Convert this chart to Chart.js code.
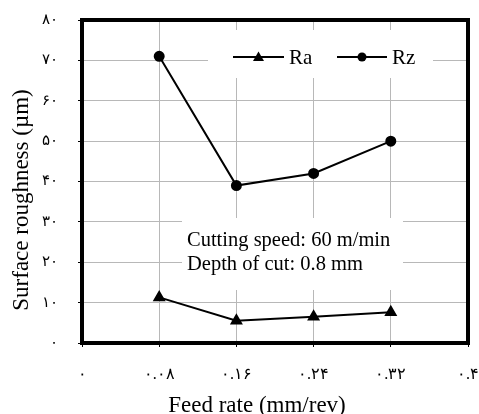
<!DOCTYPE html>
<html>
<head>
<meta charset="utf-8">
<script src="https://cdn.jsdelivr.net/npm/chart.js@4"></script>
<style>
  body { margin: 0; background: #fff; }
</style>
</head>
<body>
<canvas id="roughChart" width="479" height="414"></canvas>
<script>
// feed rate (mm/rev) and measured roughness (um)
var feedRates = [0.08, 0.16, 0.24, 0.32];
var raValues = [11.3, 5.5, 6.5, 7.6];
var rzValues = [71, 39, 42, 50];

// axis ticks, labels in Persian digits
var xTicks = [0, 0.08, 0.16, 0.24, 0.32, 0.4];
var xTickLabels = ["۰", "۰.۰۸", "۰.۱۶", "۰.۲۴", "۰.۳۲", "۰.۴"];
var yTicks = [0, 10, 20, 30, 40, 50, 60, 70, 80];
var yTickLabels = ["۰", "۱۰", "۲۰", "۳۰", "۴۰", "۵۰", "۶۰", "۷۰", "۸۰"];

var xTitle = "Feed rate (mm/rev)";
var yTitle = "Surface roughness (µm)";
var noteLines = ["Cutting speed: 60 m/min", "Depth of cut: 0.8 mm"];

var serif = "'Liberation Serif', 'Times New Roman', serif";

const toPoints = (ys) => feedRates.map((x, i) => ({ x: x, y: ys[i] }));

// white boxes behind legend and note, thick frame, legend, titles
const decorations = {
    id: 'decorations',
    beforeDatasetsDraw(chart) {
        let c = chart.ctx;
        c.save();
        c.fillStyle = '#fff';
        c.fillRect(208, 30, 225, 48);
        c.fillRect(182, 218, 221, 72);
        c.restore();
    },
    afterDraw(chart) {
        let c = chart.ctx;
        let a = chart.chartArea;
        c.save();
        c.strokeStyle = '#000';
        c.lineWidth = 4;
        c.strokeRect(a.left, a.top, a.right - a.left, a.bottom - a.top);

        // legend
        c.lineWidth = 2;
        c.fillStyle = '#000';
        c.font = '21px ' + serif;
        c.textBaseline = 'alphabetic';
        let ly = 57;
        let items = [
            { x0: 233, x1: 284, ds: chart.data.datasets[0] },
            { x0: 337, x1: 387, ds: chart.data.datasets[1] }
        ];
        items.forEach(it => {
            c.beginPath();
            c.moveTo(it.x0, ly);
            c.lineTo(it.x1, ly);
            c.stroke();
            let mx = (it.x0 + it.x1) / 2;
            if (it.ds.pointStyle === 'triangle') {
                c.beginPath();
                c.moveTo(mx, ly - 5.5);
                c.lineTo(mx + 5.5, ly + 4);
                c.lineTo(mx - 5.5, ly + 4);
                c.closePath();
                c.fill();
            } else {
                c.beginPath();
                c.arc(mx, ly, 4.5, 0, Math.PI * 2);
                c.fill();
            }
            c.fillText(it.ds.label, it.x1 + 5, ly + 7);
        });

        // cutting conditions note
        c.font = '20.5px ' + serif;
        noteLines.forEach((t, i) => c.fillText(t, 187, 246 + i * 24));

        // axis titles
        c.font = '23px ' + serif;
        c.textAlign = 'center';
        c.fillText(xTitle, 257, 412);
        c.translate(28, 200);
        c.rotate(-Math.PI / 2);
        c.fillText(yTitle, 0, 0);
        c.restore();
    }
};

var ctx = document.getElementById("roughChart");

var roughChart = new Chart(ctx, {
    type: 'line',
    data: {
        datasets: [
            {
                label: 'Ra',
                data: toPoints(raValues),
                borderColor: '#000',
                backgroundColor: '#000',
                borderWidth: 2,
                pointStyle: 'triangle',
                pointRadius: 5.5,
                tension: 0
            },
            {
                label: 'Rz',
                data: toPoints(rzValues),
                borderColor: '#000',
                backgroundColor: '#000',
                borderWidth: 2,
                pointStyle: 'circle',
                pointRadius: 4.5,
                tension: 0
            }
        ]
    },
    options: {
        responsive: false,
        animation: false,
        layout: { padding: { top: 20, right: 11, left: 0, bottom: 0 } },
        plugins: {
            legend: { display: false },
            tooltip: { enabled: false }
        },
        scales: {
            x: {
                type: 'linear',
                min: 0,
                max: 0.4,
                afterBuildTicks: (s) => { s.ticks = xTicks.map(v => ({ value: v })); },
                afterFit: (s) => {
                    s.height = 71;
                    s.paddingLeft = 0;
                    s.paddingRight = 0;
                },
                border: { display: false },
                grid: {
                    color: (c) => (c.index === 0 || c.index === xTicks.length - 1) ? 'rgba(0,0,0,0)' : '#b8b8b8',
                    borderDash: [1, 1],
                    tickLength: 4,
                    tickColor: '#000',
                    tickBorderDash: []
                },
                ticks: {
                    color: '#000',
                    font: { family: serif, size: 16 },
                    padding: 18,
                    maxRotation: 0,
                    callback: (v, i) => xTickLabels[i]
                },
                title: { display: false }
            },
            y: {
                min: 0,
                max: 80,
                afterBuildTicks: (s) => { s.ticks = yTicks.map(v => ({ value: v })); },
                afterFit: (s) => {
                    s.width = 82;
                    s.paddingTop = 0;
                    s.paddingBottom = 0;
                },
                border: { display: false },
                grid: {
                    color: (c) => (c.index === 0 || c.index === yTicks.length - 1) ? 'rgba(0,0,0,0)' : '#b8b8b8',
                    borderDash: [1, 1],
                    tickLength: 4,
                    tickColor: '#000',
                    tickBorderDash: []
                },
                ticks: {
                    color: '#000',
                    font: { family: serif, size: 15 },
                    padding: 20,
                    callback: (v, i) => yTickLabels[i]
                },
                title: { display: false }
            }
        }
    },
    plugins: [decorations]
});
</script>
</body>
</html>
